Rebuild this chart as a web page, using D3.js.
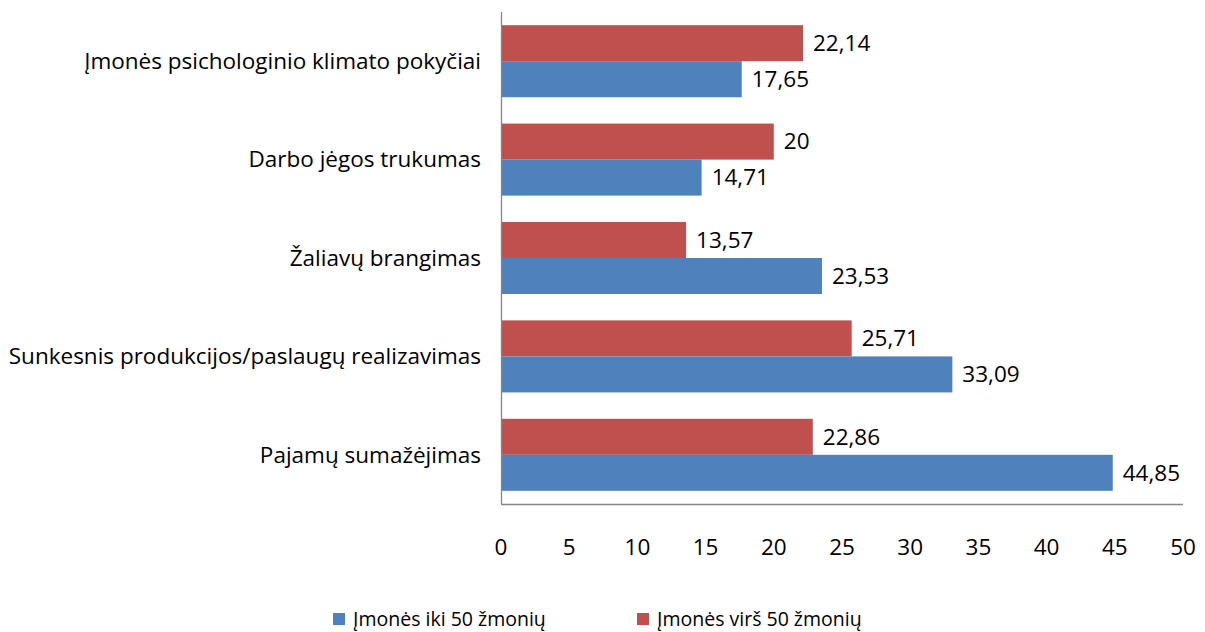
<!DOCTYPE html>
<html><head><meta charset="utf-8">
<script src="https://cdn.jsdelivr.net/npm/d3@7"></script>
<style>body{margin:0;background:#fff}svg text{font-family:"Open Sans",sans-serif;fill:#000}</style>
</head><body><svg id="c" width="1205" height="632"></svg>
<script>
const categories = ["Įmonės psichologinio klimato pokyčiai","Darbo jėgos trukumas","Žaliavų brangimas","Sunkesnis produkcijos/paslaugų realizavimas","Pajamų sumažėjimas"];
const seriesRed = [22.14, 20, 13.57, 25.71, 22.86];
const seriesBlue = [17.65, 14.71, 23.53, 33.09, 44.85];
const legendLabels = ["Įmonės iki 50 žmonių","Įmonės virš 50 žmonių"];
const xTicks = [0,5,10,15,20,25,30,35,40,45,50];
const colors = {blue:"#4F81BD", red:"#C0504D"};

const svg = d3.select("#c");
const pLeft=501, pRight=1183, pTop=12, pBottom=504;
const x = d3.scaleLinear().domain([0,50]).range([pLeft,pRight]);
const y = d3.scaleBand().domain(categories).range([pTop,pBottom]).paddingInner(0.268).paddingOuter(0.134);
const inner = d3.scaleBand().domain(["red","blue"]).range([0,y.bandwidth()]);
const fmt = v => String(v).replace(".",",");
const fs = 22.5, fsLeg = 19.5;

categories.forEach((c,i)=>{
  [["red",seriesRed[i]],["blue",seriesBlue[i]]].forEach(([k,v])=>{
    const yy = y(c)+inner(k);
    svg.append("rect").attr("x",x(0)).attr("y",yy).attr("width",x(v)-x(0)).attr("height",inner.bandwidth()).attr("fill",colors[k]);
    svg.append("text").attr("x",x(v)+10).attr("y",yy+inner.bandwidth()/2).attr("dy","0.35em").attr("font-size",fs).text(fmt(v));
  });
  svg.append("text").attr("x",481).attr("y",y(c)+y.bandwidth()/2).attr("dy","0.35em").attr("text-anchor","end").attr("font-size",fs).text(c);
});

svg.append("line").attr("x1",pLeft+0.5).attr("x2",pLeft+0.5).attr("y1",pTop).attr("y2",pBottom).attr("stroke","#868686").attr("stroke-width",1.3);
svg.append("line").attr("x1",pLeft).attr("x2",pRight).attr("y1",pBottom+0.5).attr("y2",pBottom+0.5).attr("stroke","#868686").attr("stroke-width",1.3);

xTicks.forEach(t=>{
  svg.append("text").attr("x",x(t)).attr("y",547).attr("dy","0.35em").attr("text-anchor","middle").attr("font-size",fs).text(t);
});

const lg = [[333,colors.blue,legendLabels[0]],[637,colors.red,legendLabels[1]]];
lg.forEach(([lx,col,txt])=>{
  svg.append("rect").attr("x",lx).attr("y",613).attr("width",12).attr("height",12).attr("fill",col);
  svg.append("text").attr("x",lx+20).attr("y",619).attr("dy","0.35em").attr("font-size",fsLeg).text(txt);
});
</script></body></html>
